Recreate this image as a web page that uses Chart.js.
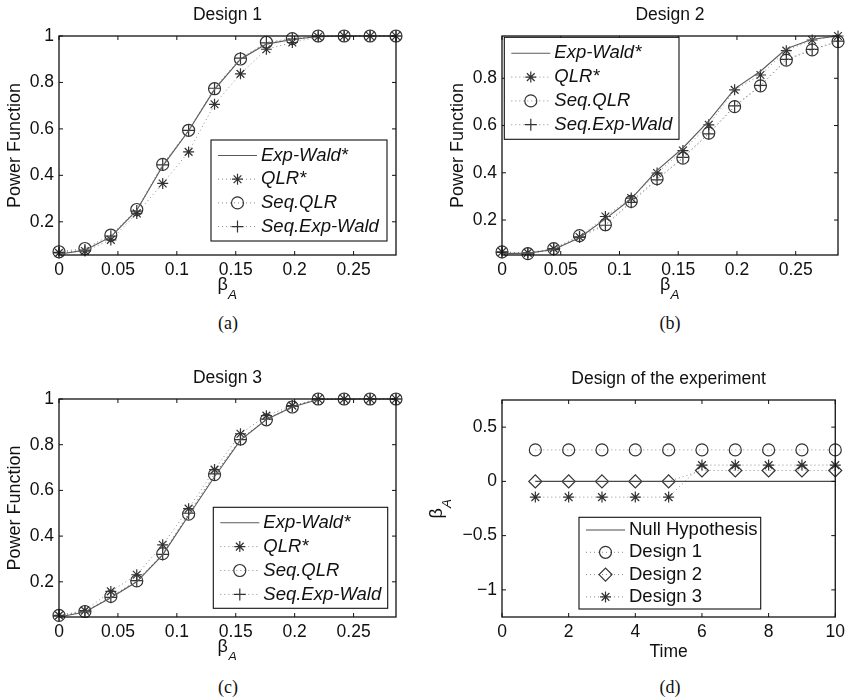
<!DOCTYPE html>
<html><head><meta charset="utf-8">
<script src="https://cdn.jsdelivr.net/npm/chart.js@4.4.1/dist/chart.umd.min.js"></script>
<style>
html,body{margin:0;padding:0;background:#fff;}
#fig{position:relative;width:850px;height:700px;background:#fff;overflow:hidden;}
canvas{position:absolute;}
.cap{position:absolute;width:200px;text-align:center;font:18px "Liberation Serif","Times New Roman",serif;color:#111;line-height:20px;}
</style></head><body>
<div id="fig">
<canvas id="ca" width="425" height="310" style="left:0px;top:0px"></canvas>
<canvas id="cb" width="425" height="310" style="left:425px;top:0px"></canvas>
<canvas id="cc" width="425" height="310" style="left:0px;top:350px"></canvas>
<canvas id="cd" width="425" height="310" style="left:425px;top:350px"></canvas>
<div class="cap" style="left:128px;top:313px">(a)</div>
<div class="cap" style="left:570px;top:313px">(b)</div>
<div class="cap" style="left:128px;top:677px">(c)</div>
<div class="cap" style="left:570px;top:677px">(d)</div>
</div>
<script>
// ---------- data ----------
const xBeta = [0, 0.022, 0.044, 0.066, 0.088, 0.11, 0.132, 0.154, 0.176, 0.198, 0.22, 0.242, 0.264, 0.286];
const seriesNames = ['Exp-Wald*', 'QLR*', 'Seq.QLR', 'Seq.Exp-Wald'];

// Design 1
const d1ExpWald   = [0.060, 0.078, 0.135, 0.250, 0.440, 0.592, 0.770, 0.900, 0.965, 0.985, 0.998, 1, 1, 1];
const d1QLR       = [0.066, 0.074, 0.122, 0.236, 0.365, 0.501, 0.706, 0.837, 0.943, 0.972, 0.997, 1, 1, 1];
const d1SeqQLR    = [0.071, 0.085, 0.143, 0.253, 0.447, 0.594, 0.773, 0.901, 0.973, 0.989, 1, 1, 1, 1];
const d1SeqExpW   = [0.068, 0.078, 0.138, 0.246, 0.445, 0.594, 0.775, 0.905, 0.970, 0.987, 1, 1, 1, 1];
// Design 2
const d2ExpWald   = [0.058, 0.060, 0.075, 0.125, 0.205, 0.290, 0.410, 0.505, 0.620, 0.755, 0.830, 0.925, 0.965, 0.979];
const d2QLR       = [0.065, 0.061, 0.079, 0.128, 0.215, 0.293, 0.399, 0.494, 0.603, 0.751, 0.814, 0.917, 0.962, 0.979];
const d2SeqQLR    = [0.065, 0.058, 0.079, 0.134, 0.180, 0.279, 0.375, 0.462, 0.568, 0.680, 0.768, 0.877, 0.920, 0.955];
const d2SeqExpW   = [0.063, 0.056, 0.075, 0.128, 0.178, 0.275, 0.370, 0.465, 0.565, 0.683, 0.770, 0.880, 0.922, 0.957];
// Design 3
const d3ExpWald   = [0.046, 0.068, 0.130, 0.200, 0.318, 0.490, 0.660, 0.820, 0.910, 0.965, 0.998, 1, 1, 1];
const d3QLR       = [0.053, 0.074, 0.158, 0.231, 0.362, 0.520, 0.691, 0.848, 0.927, 0.971, 1, 1, 1, 1];
const d3SeqQLR    = [0.053, 0.070, 0.136, 0.204, 0.323, 0.496, 0.669, 0.825, 0.909, 0.965, 1, 1, 1, 1];
const d3SeqExpW   = [0.050, 0.068, 0.132, 0.205, 0.320, 0.500, 0.672, 0.822, 0.912, 0.968, 1, 1, 1, 1];

const betaTickValues = [0, 0.05, 0.1, 0.15, 0.2, 0.25];
const betaTickLabels = ['0', '0.05', '0.1', '0.15', '0.2', '0.25'];
const powerTickValues = [0.2, 0.4, 0.6, 0.8, 1];
const powerTickLabels = ['0.2', '0.4', '0.6', '0.8', '1'];

// Design of the experiment
const timeValues     = [1, 2, 3, 4, 5, 6, 7, 8, 9, 10];
const nullHypothesis = [0, 0, 0, 0, 0, 0, 0, 0, 0, 0];
const design1Beta    = [0.29, 0.29, 0.29, 0.29, 0.29, 0.29, 0.29, 0.29, 0.29, 0.29];
const design2Beta    = [0, 0, 0, 0, 0, 0.1, 0.1, 0.1, 0.1, 0.1];
const design3Beta    = [-0.145, -0.145, -0.145, -0.145, -0.145, 0.15, 0.15, 0.15, 0.15, 0.15];
const designNames    = ['Null Hypothesis', 'Design 1', 'Design 2', 'Design 3'];
const timeTickValues = [0, 2, 4, 6, 8, 10];
const timeTickLabels = ['0', '2', '4', '6', '8', '10'];
const designTickValues = [-1, -0.5, 0, 0.5];
const designTickLabels = ['\u22121', '\u22120.5', '0', '0.5'];

// ---------- styles ----------
const FONT = '"Liberation Sans", Arial, Helvetica, sans-serif';
const solidStyle = {borderColor: '#5a5a5a', borderWidth: 1.1, borderDash: [], pointRadius: 0};
const dotStyle = {borderColor: '#8c8c8c', borderWidth: 1, borderDash: [1, 3]};
function marker(style, r) {
  return {pointStyle: style, pointRadius: r, pointBorderColor: '#333', pointBackgroundColor: 'rgba(0,0,0,0)', pointBorderWidth: 1.2};
}
function series(label, xs, ys, style) {
  return Object.assign({label: label, data: xs.map((x, i) => ({x: x, y: ys[i]})), showLine: true, clip: false, fill: false, tension: 0}, style);
}
function powerSets(a, b, c, d) {
  return [
    series(seriesNames[0], xBeta, a, solidStyle),
    series(seriesNames[1], xBeta, b, Object.assign({}, dotStyle, marker('star', 5.5))),
    series(seriesNames[2], xBeta, c, Object.assign({}, dotStyle, marker('circle', 6))),
    series(seriesNames[3], xBeta, d, Object.assign({}, dotStyle, marker('cross', 6)))
  ];
}

function drawBetaA(ctx, cx, base) {
  ctx.textAlign = 'left';
  ctx.textBaseline = 'alphabetic';
  ctx.font = '18px ' + FONT;
  ctx.fillText('\u03B2', cx - 10, base);
  ctx.font = 'italic 13.5px ' + FONT;
  ctx.fillText('A', cx + 0.5, base + 8.5);
}

const matlabPlugin = {
  id: 'matlab',
  afterDraw(chart, args, o) {
    const ctx = chart.ctx, a = chart.chartArea, xs = chart.scales.x, ys = chart.scales.y;
    ctx.save();
    ctx.strokeStyle = '#111'; ctx.lineWidth = 1.3; ctx.setLineDash([]);
    ctx.strokeRect(a.left, a.top, a.right - a.left, a.bottom - a.top);
    ctx.lineWidth = 1;
    ctx.beginPath();
    const tl = 4;
    o.xTicks.forEach(v => { const p = xs.getPixelForValue(v); ctx.moveTo(p, a.bottom); ctx.lineTo(p, a.bottom - tl); ctx.moveTo(p, a.top); ctx.lineTo(p, a.top + tl); });
    o.yTicks.forEach(v => { const p = ys.getPixelForValue(v); ctx.moveTo(a.left, p); ctx.lineTo(a.left + tl, p); ctx.moveTo(a.right, p); ctx.lineTo(a.right - tl, p); });
    ctx.stroke();
    const cx = (a.left + a.right) / 2, cy = (a.top + a.bottom) / 2;
    ctx.fillStyle = '#111';
    ctx.font = '17.5px ' + FONT; ctx.textAlign = 'center'; ctx.textBaseline = 'middle';
    ctx.fillText(o.title, cx, a.top - 20.5);
    if (o.xLabel === 'betaA') { drawBetaA(ctx, cx, a.bottom + 35); }
    else { ctx.font = '17.5px ' + FONT; ctx.textAlign = 'center'; ctx.textBaseline = 'middle'; ctx.fillText(o.xLabel, cx, a.bottom + 35); }
    ctx.save();
    ctx.translate(o.yLabelX, cy); ctx.rotate(-Math.PI / 2);
    if (o.yLabel === 'betaA') { drawBetaA(ctx, 0, 2); }
    else { ctx.font = '18px ' + FONT; ctx.textAlign = 'center'; ctx.textBaseline = 'middle'; ctx.fillText(o.yLabel, 0, 0); }
    ctx.restore();
    // legend
    const lg = o.legend;
    const [bx1, by1, bx2, by2] = lg.box;
    ctx.fillStyle = '#fff'; ctx.fillRect(bx1, by1, bx2 - bx1, by2 - by1);
    ctx.strokeStyle = '#111'; ctx.lineWidth = 1.1; ctx.strokeRect(bx1, by1, bx2 - bx1, by2 - by1);
    chart.data.datasets.forEach((ds, i) => {
      const y = by1 + lg.row0 + i * lg.rowStep;
      ctx.save();
      ctx.strokeStyle = ds.borderColor; ctx.lineWidth = ds.borderWidth; ctx.setLineDash(ds.borderDash || []);
      ctx.beginPath(); ctx.moveTo(bx1 + 7, y); ctx.lineTo(bx1 + 46, y); ctx.stroke();
      ctx.restore();
      if (ds.pointRadius > 0) {
        ctx.save();
        ctx.strokeStyle = ds.pointBorderColor; ctx.fillStyle = 'rgba(0,0,0,0)'; ctx.lineWidth = ds.pointBorderWidth; ctx.setLineDash([]);
        Chart.helpers.drawPoint(ctx, {pointStyle: ds.pointStyle, radius: ds.pointRadius, rotation: 0, borderWidth: ds.pointBorderWidth}, bx1 + 26.5, y);
        ctx.restore();
      }
      ctx.fillStyle = '#111'; ctx.font = (lg.italic ? 'italic ' : '') + '18.5px ' + FONT;
      ctx.textAlign = 'left'; ctx.textBaseline = 'middle';
      ctx.fillText(ds.label, bx1 + 50, y);
    });
    ctx.restore();
  }
};

function makePanel(id, p) {
  const lookup = (vals, labs) => (v) => { const i = vals.findIndex(t => Math.abs(t - v) < 1e-9); return i >= 0 ? labs[i] : ''; };
  new Chart(document.getElementById(id), {
    type: 'scatter',
    data: {datasets: p.datasets},
    plugins: [matlabPlugin],
    options: {
      responsive: false, animation: false, devicePixelRatio: 1, events: [],
      layout: {padding: {left: 0, top: p.top, right: p.right, bottom: 0}},
      plugins: {
        legend: {display: false}, tooltip: {enabled: false}, title: {display: false},
        matlab: {xTicks: p.xTicks, yTicks: p.yTicks, title: p.title, xLabel: p.xLabel, yLabel: p.yLabel, yLabelX: p.yLabelX, legend: p.legend}
      },
      scales: {
        x: {
          type: 'linear', min: p.xMin, max: p.xMax,
          grid: {display: false, drawTicks: false}, border: {display: false},
          afterBuildTicks: s => { s.ticks = p.xTicks.map(v => ({value: v})); },
          afterFit: s => { s.height = p.xH; },
          ticks: {autoSkip: false, maxRotation: 0, padding: 5, color: '#111', font: {family: FONT, size: 17.5}, callback: lookup(p.xTicks, p.xLabels)}
        },
        y: {
          type: 'linear', min: p.yMin, max: p.yMax,
          grid: {display: false, drawTicks: false}, border: {display: false},
          afterBuildTicks: s => { s.ticks = p.yTicks.map(v => ({value: v})); },
          afterFit: s => { s.width = p.yW; },
          ticks: {autoSkip: false, padding: 5, color: '#111', font: {family: FONT, size: 17.5}, callback: lookup(p.yTicks, p.yLabels)}
        }
      }
    }
  });
}

makePanel('ca', {
  datasets: powerSets(d1ExpWald, d1QLR, d1SeqQLR, d1SeqExpW),
  top: 36, right: 29, yW: 59, xH: 55,
  xMin: 0, xMax: 0.286, yMin: 0.057, yMax: 1,
  xTicks: betaTickValues, xLabels: betaTickLabels, yTicks: powerTickValues, yLabels: powerTickLabels,
  title: 'Design 1', xLabel: 'betaA', yLabel: 'Power Function', yLabelX: 15,
  legend: {box: [211, 140, 387, 241], row0: 15.5, rowStep: 23.7, italic: true}
});
makePanel('cb', {
  datasets: powerSets(d2ExpWald, d2QLR, d2SeqQLR, d2SeqExpW),
  top: 36, right: 12, yW: 77, xH: 55,
  xMin: 0, xMax: 0.286, yMin: 0.052, yMax: 0.979,
  xTicks: betaTickValues, xLabels: betaTickLabels, yTicks: powerTickValues.slice(0, 4), yLabels: powerTickLabels.slice(0, 4),
  title: 'Design 2', xLabel: 'betaA', yLabel: 'Power Function', yLabelX: 33,
  legend: {box: [79.3, 37.3, 254, 139.3], row0: 16, rowStep: 23.8, italic: true}
});
makePanel('cc', {
  datasets: powerSets(d3ExpWald, d3QLR, d3SeqQLR, d3SeqExpW),
  top: 49, right: 29, yW: 59, xH: 43,
  xMin: 0, xMax: 0.286, yMin: 0.046, yMax: 1,
  xTicks: betaTickValues, xLabels: betaTickLabels, yTicks: powerTickValues, yLabels: powerTickLabels,
  title: 'Design 3', xLabel: 'betaA', yLabel: 'Power Function', yLabelX: 15,
  legend: {box: [213.3, 157.3, 387.7, 258.3], row0: 15.4, rowStep: 23.9, italic: true}
});
makePanel('cd', {
  datasets: [
    series(designNames[0], timeValues, nullHypothesis, Object.assign({}, solidStyle, {borderColor: '#4a4a4a'})),
    series(designNames[1], timeValues, design1Beta, Object.assign({}, dotStyle, marker('circle', 6))),
    series(designNames[2], timeValues, design2Beta, Object.assign({}, dotStyle, marker('rectRot', 6.5))),
    series(designNames[3], timeValues, design3Beta, Object.assign({}, dotStyle, marker('star', 5.5)))
  ],
  top: 50, right: 12, yW: 77, xH: 43,
  xMin: 0, xMax: 10, yMin: -1.25, yMax: 0.75,
  xTicks: timeTickValues, xLabels: timeTickLabels, yTicks: designTickValues, yLabels: designTickLabels,
  title: 'Design of the experiment', xLabel: 'Time', yLabel: 'betaA', yLabelX: 15,
  legend: {box: [154, 167.3, 335.7, 259], row0: 12.7, rowStep: 22.3, italic: false}
});
</script>
</body></html>
